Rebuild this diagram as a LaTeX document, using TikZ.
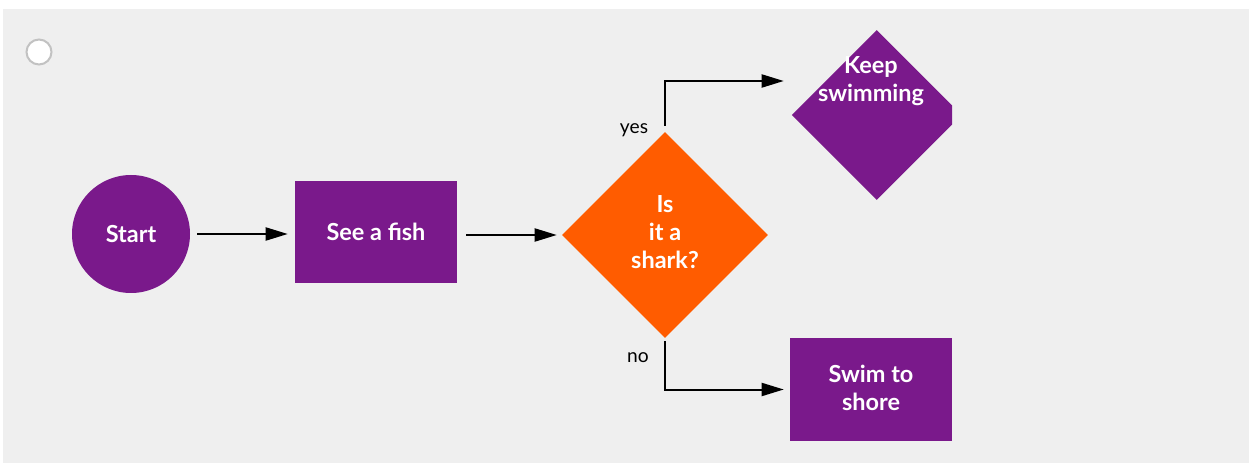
\documentclass[tikz,border=0pt]{standalone}
\usepackage{fontspec}
\setmainfont{Lato}
\usetikzlibrary{shapes.geometric,arrows.meta}
\definecolor{panel}{HTML}{EFEFEF}
\definecolor{plum}{HTML}{7A198B}
\definecolor{flame}{HTML}{FF5C00}
\definecolor{ring}{HTML}{C2C2C2}
\begin{document}
\begin{tikzpicture}[x=0.75pt,y=-0.75pt,
  label text/.style={text=white, align=center, font=\fontsize{17.6}{21}\selectfont\bfseries},
  box/.style={label text, fill=plum, minimum width=121.5pt, minimum height=76.5pt, inner sep=0pt},
  startnode/.style={label text, circle, fill=plum, minimum size=88.5pt, inner sep=0pt},
  decision/.style={label text, diamond, fill=flame, minimum width=154.5pt, minimum height=154.5pt, inner sep=0pt},
  link/.style={line width=1.5pt, -{Triangle[length=16.5pt,width=9.75pt]}},
  tag/.style={text=black, font=\fontsize{14.4}{17}\selectfont, inner sep=0pt}]
\useasboundingbox (0,0) rectangle (1249,463);
\fill[panel] (3,9) rectangle (1249,463);

% selection ring in the corner
\node[circle, draw=ring, fill=white, line width=1.5pt, minimum size=18.75pt, inner sep=0pt] (radio) at (39,52) {};

% flow nodes
\node[startnode] (start) at (131,234) {Start};
\node[box] (fish) at (376,232) {See a fish};
\node[decision] (shark) at (665,235) {};
\node[label text, inner sep=0pt] (sharktext) at (665,232) {Is\\it a\\shark?};
\node[box, minimum height=77.25pt] (shore) at (871,389.5) {};
\node[label text, inner sep=0pt] (shoretext) at (871,387.5) {Swim to\\shore};

% the "keep swimming" diamond is cut off on its right side
\begin{scope}
  \clip (0,0) rectangle (952,463);
  \node[diamond, fill=plum, minimum width=127.5pt, minimum height=127.5pt, inner sep=0pt] (keepshape) at (876.7,115) {};
\end{scope}
\node[label text, minimum width=121.5pt, inner sep=0pt] (keep) at (871,81) {Keep\\swimming};

% connectors
\draw[link, shorten <=5.25pt, shorten >=5.25pt] (start.east) -- (fish.west |- start.east);
\draw[link, shorten <=6.75pt, shorten >=3.75pt] (fish.east |- shark.west) -- (shark.west);
\draw[link, shorten <=4.5pt, shorten >=4.5pt] (shark.north) -- (shark.north |- keep.west) -- (keep.west);
\draw[link, shorten <=2.25pt, shorten >=4.5pt] (shark.south) -- (shark.south |- shore.west) -- (shore.west);

% branch labels
\node[tag, anchor=base] (yes) at (634,134) {yes};
\node[tag, anchor=base] (no) at (638,362) {no};
\end{tikzpicture}
\end{document}
